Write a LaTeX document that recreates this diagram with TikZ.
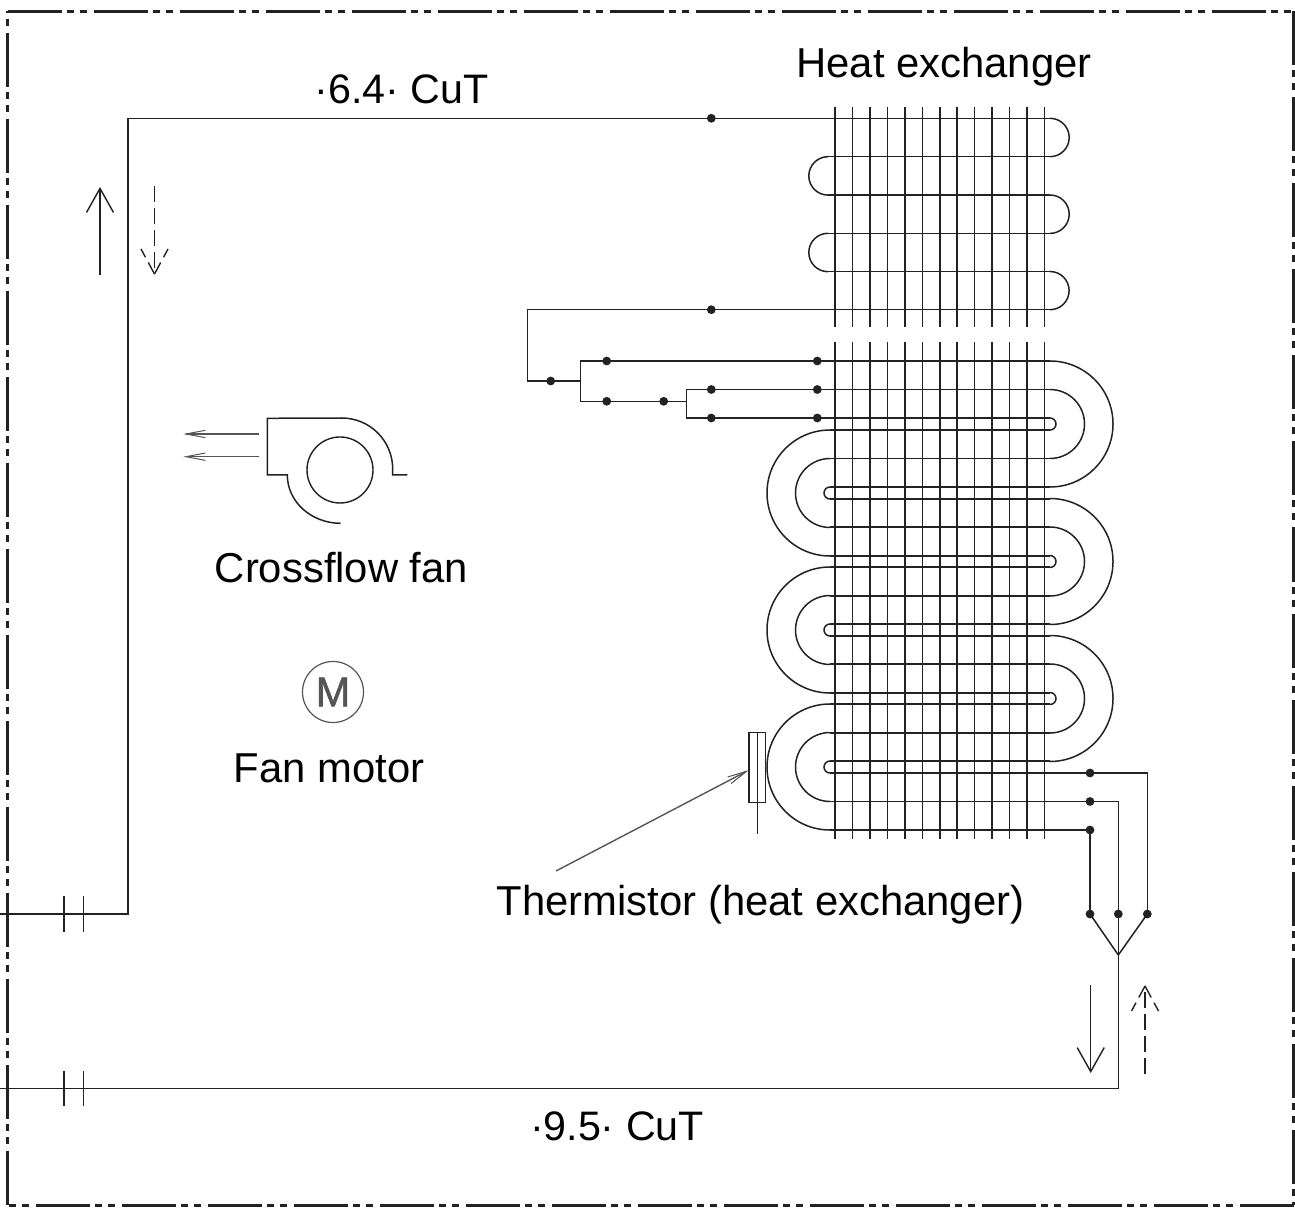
\documentclass[tikz,border=0pt]{standalone}
\usepackage{fontspec}
\setmainfont{Liberation Sans}
\newfontfamily\motorfont[FakeBold=1.2]{Liberation Sans}
\usetikzlibrary{arrows.meta}
\definecolor{ink}{HTML}{222222}
\definecolor{soft}{HTML}{555555}
\tikzset{
  pipe/.style={draw=ink,line width=0.75pt},
  finline/.style={draw=ink,line width=0.75pt},
  dot/.style={circle,fill=ink,draw=none,minimum size=4.4pt,inner sep=0pt},
  label/.style={inner sep=0pt,anchor=base,font=\fontsize{20.9pt}{25pt}\selectfont,text=black},
  sizelabel/.style={inner sep=0pt,anchor=base,font=\fontsize{20.6pt}{25pt}\selectfont,text=black},
  border/.style={draw=ink,line width=1.5pt,dash pattern=on 27pt off 2.5pt on 3.5pt off 3pt on 3.5pt off 3.5pt},
  flow/.style={draw=ink,line width=0.7pt,-{Straight Barb[length=12pt,width=13.5pt,line width=0.7pt]}},
  dashflow/.style={draw=ink,line width=0.7pt,dash pattern=on 8pt off 3pt},
  dashwing/.style={draw=ink,line width=0.7pt,dash pattern=on 6.5pt off 3pt on 5pt off 9pt},
  air/.style={draw=soft,line width=0.75pt,-{Straight Barb[length=9.7pt,width=3.7pt,line width=0.5pt]}},
  leader/.style={draw=soft,line width=0.7pt,-{Straight Barb[length=9.7pt,width=3.7pt,line width=0.5pt]}},
}
\begin{document}
\begin{tikzpicture}[x=0.5pt,y=-0.5pt]
\useasboundingbox (0,0) rectangle (1295,1213);

% border
\draw[border] (7.5,11.5) -- (1293.7,11.5);
\draw[border] (1293.7,11.5) -- (1293.7,1205);
\draw[border,dash phase=32.25pt] (7.5,11.5) -- (7.5,1205);
\draw[border,dash phase=28.75pt] (7.5,1205) -- (1293.7,1205);

% fins
\foreach \i in {0,...,12}{
  \pgfmathsetmacro{\fx}{835+17.46*\i}
  \draw[finline] (\fx,107) -- (\fx,326.7);
  \draw[finline] (\fx,342) -- (\fx,839);
}

% upper coil
\draw[pipe] (828,156.7) -- (1050,156.7) (828,195) -- (1050,195)
            (828,233.3) -- (1050,233.3) (828,271.7) -- (1050,271.7);
\draw[pipe] (1050,118.3) arc (-90:90:19.2);
\draw[pipe] (1050,195) arc (-90:90:19.2);
\draw[pipe] (1050,271.5) arc (-90:90:19.1);
\draw[pipe] (828,156.7) arc (-90:-270:19.2);
\draw[pipe] (828,233.3) arc (-90:-270:19.2);

% lower coil tubes and bends
\foreach \c in {424,561.5,698.5}{
  \foreach \o in {-63,-34.5,-6,6,34.5,63}{
    \draw[pipe] (830,\c+\o) -- (1050,\c+\o);
  }
  \draw[pipe] (1050,\c-63) arc (-90:90:63);
  \draw[pipe] (1050,\c-34.5) arc (-90:90:34.5);
  \draw[pipe] (1050,\c-6) arc (-90:90:6);
}
\foreach \c in {493,630,767}{
  \foreach \o in {-63,-34.5,-6,6,34.5,63}{
    \draw[pipe] (830,\c+\o) -- (1050,\c+\o);
  }
  \draw[pipe] (830,\c-63) arc (-90:-270:63);
  \draw[pipe] (830,\c-34.5) arc (-90:-270:34.5);
  \draw[pipe] (830,\c-6) arc (-90:-270:6);
}

% named junctions
\coordinate (cTopEnd) at (1050,118.3);
\coordinate (cTopCorner) at (128,118.3);
\coordinate (cLeftCorner) at (128,914);
\coordinate (cLeftEnd) at (0,914);
\coordinate (cBotEnd) at (0,1088.7);
\coordinate (cBotCorner) at (1118.3,1088.7);
\coordinate (cMerge) at (1118.3,955);
\coordinate (cRetEnd) at (1050,309.7);
\coordinate (cRetCorner) at (527.3,309.7);
\coordinate (cRetLow) at (527.3,381);
\coordinate (cSplitA) at (580.3,381);
\coordinate (cSplitATop) at (580.3,361);
\coordinate (cSplitABot) at (580.3,401.3);
\coordinate (cSplitB) at (686.7,401.3);
\coordinate (cSplitBTop) at (686.7,389.5);
\coordinate (cSplitBBot) at (686.7,418);
\coordinate (cT1) at (830,361);
\coordinate (cT2) at (830,389.5);
\coordinate (cT3) at (830,418);
\coordinate (cOut1) at (1050,773);
\coordinate (cOut2) at (1050,801.5);
\coordinate (cOut3) at (1050,830);
\coordinate (cOut1c) at (1147.3,773);
\coordinate (cOut2c) at (1118.3,801.5);

\node[dot] (dTop) at (711.3,118.3) {};
\node[dot] (dRet) at (711.3,309.7) {};
\node[dot] (dA) at (550.7,381) {};
\node[dot] (dB1) at (606.7,361) {};
\node[dot] (dB2) at (606.7,401.3) {};
\node[dot] (dB3) at (663.7,401.3) {};
\node[dot] (dC1) at (711.3,389.5) {};
\node[dot] (dC2) at (711.3,418) {};
\node[dot] (dT1) at (817.3,361) {};
\node[dot] (dT2) at (817.3,389.5) {};
\node[dot] (dT3) at (817.3,418) {};
\node[dot] (dO1) at (1090,773) {};
\node[dot] (dO2) at (1090,801.5) {};
\node[dot] (dO3) at (1090,830) {};
\node[dot] (dF1) at (1090,914) {};
\node[dot] (dF2) at (1118.3,914) {};
\node[dot] (dF3) at (1147.3,914) {};

% piping
\draw[pipe] (cTopEnd) -- (dTop.center) -- (cTopCorner) -- (cLeftCorner) -- (cLeftEnd);
\draw[pipe] (cBotEnd) -- (cBotCorner) -- (cMerge) -- (dF2.center);
\draw[pipe] (cMerge) -- (dF1.center);
\draw[pipe] (cMerge) -- (dF3.center);
\draw[pipe] (cRetEnd) -- (dRet.center) -- (cRetCorner) -- (cRetLow) -- (dA.center) -- (cSplitA);
\draw[pipe] (cT1) -- (dT1.center) -- (dB1.center) -- (cSplitATop) -- (cSplitABot) -- (dB2.center) -- (dB3.center) -- (cSplitB);
\draw[pipe] (cT2) -- (dT2.center) -- (dC1.center) -- (cSplitBTop) -- (cSplitBBot) -- (dC2.center) -- (dT3.center) -- (cT3);
\draw[pipe] (cOut1) -- (dO1.center) -- (cOut1c) -- (dF3.center);
\draw[pipe] (cOut2) -- (dO2.center) -- (cOut2c) -- (dF2.center);
\draw[pipe] (cOut3) -- (dO3.center) -- (dF1.center);

% flare ticks
\draw[finline] (64,896) -- (64,932) (83.3,896) -- (83.3,932);
\draw[finline] (64,1071) -- (64,1106) (83.3,1071) -- (83.3,1106);

% flow arrows
\coordinate (aUpS) at (100,275); \coordinate (aUpT) at (100,187);
\draw[flow] (aUpS) -- (aUpT);
\coordinate (aDnS) at (1090.7,985); \coordinate (aDnT) at (1090.7,1073);
\draw[flow] (aDnS) -- (aDnT);
\coordinate (bDnS) at (154.5,186); \coordinate (bDnT) at (154.5,274);
\draw[dashflow] (bDnS) -- (bDnT);
\draw[dashwing] (bDnT) -- (141,249);
\draw[dashwing] (bDnT) -- (168,249);
\coordinate (bUpS) at (1145,1074); \coordinate (bUpT) at (1145,986);
\draw[dashflow] (bUpS) -- (bUpT);
\draw[dashwing] (bUpT) -- (1131.5,1011);
\draw[dashwing] (bUpT) -- (1158.5,1011);

% fan
\draw[pipe] (407.3,475) -- (392.7,475) -- (392.7,469) arc (0:-90:51) -- (267.3,418.3) -- (267.3,475) -- (287.3,475) arc (180:90:53.4 and 48.3);
\node[circle,draw=ink,line width=0.7pt,minimum size=33pt,inner sep=0pt] (fanWheel) at (340,470) {};
\coordinate (aAS) at (259.3,434); \coordinate (aAT) at (183.3,434);
\coordinate (aBS) at (259.3,456.7); \coordinate (aBT) at (183.3,456.7);
\draw[air] (aAS) -- (aAT);
\draw[air] (aBS) -- (aBT);

% motor
\node[circle,draw=soft,line width=0.6pt,minimum size=30.5pt,inner sep=0pt,text=soft,font=\motorfont\fontsize{20.9pt}{25pt}\selectfont] (motor) at (333,692) {M};

% thermistor
\node[draw=ink,line width=0.6pt,minimum width=8.3pt,minimum height=35.2pt,inner sep=0pt] (therm) at (757.3,767.5) {};
\coordinate (thermTail) at (757.3,834);
\draw[finline] (therm.north) -- (thermTail);
\coordinate (leadEnd) at (556,871);
\coordinate (leadTip) at (749,770);
\draw[leader] (leadEnd) -- (leadTip);

% labels
\node[sizelabel] (lCu64) at (401.5,104) {·6.4· CuT};
\node[label] (lHex) at (944,78) {Heat exchanger};
\node[label] (lFan) at (341.5,582) {Crossflow fan};
\node[label] (lMot) at (329,782) {Fan motor};
\node[label] (lTh) at (760.5,915) {Thermistor (heat exchanger)};
\node[sizelabel] (lCu95) at (617,1140) {·9.5· CuT};
\end{tikzpicture}
\end{document}
